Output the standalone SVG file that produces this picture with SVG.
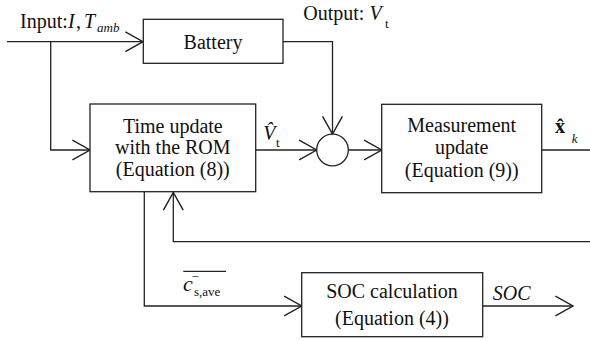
<svg xmlns="http://www.w3.org/2000/svg" width="590" height="341" viewBox="0 0 590 341">
<style>
text{font-family:"Liberation Serif","Times New Roman",serif;fill:#111;}
.t{font-size:20px;text-anchor:middle;}
.l{font-size:20px;}
.it{font-style:italic;}
.sub{font-size:13px;}
.box{fill:#fff;stroke:#222;stroke-width:1.3;}
.ln{fill:none;stroke:#222;stroke-width:1.3;}
</style>
<defs>
<marker id="ah" markerUnits="userSpaceOnUse" markerWidth="20" markerHeight="22" refX="0" refY="0" viewBox="-17 -10 18 20" orient="auto" overflow="visible">
<path d="M-16,-9 L0,0 L-16,9" fill="none" stroke="#222" stroke-width="1.3"/>
</marker>
</defs>
<rect width="590" height="341" fill="#fff"/>
<g id="connectors">
<path class="ln" d="M7,41.7 H143" marker-end="url(#ah)"/>
<path class="ln" d="M50.7,41.7 V150 H90" marker-end="url(#ah)"/>
<path class="ln" d="M283,41.7 H332.5 V134" marker-end="url(#ah)"/>
<path class="ln" d="M255.7,150 H316.7" marker-end="url(#ah)"/>
<path class="ln" d="M348.3,150 H381.7" marker-end="url(#ah)"/>
<path class="ln" d="M541.7,150 H590"/>
<path class="ln" d="M590,241.7 H173.3 V192.5" marker-end="url(#ah)"/>
<path class="ln" d="M144.3,191.7 V306 H301.7" marker-end="url(#ah)"/>
<path class="ln" d="M482.7,306 H573" marker-end="url(#ah)"/>
</g>
<g id="battery">
<rect class="box" x="143.3" y="19.3" width="139.7" height="44"/>
<text class="t" x="213" y="48.5">Battery</text>
</g>
<g id="time-update">
<rect class="box" x="90" y="104" width="165.7" height="87.7"/>
<text class="t" x="172.8" y="132.7">Time update</text>
<text class="t" x="172.8" y="154.2">with the ROM</text>
<text class="t" x="172.8" y="175.7">(Equation (8))</text>
</g>
<g id="sum">
<circle cx="332.5" cy="150" r="15.8" fill="#fff" stroke="#222" stroke-width="1.3"/>
</g>
<g id="measurement-update">
<rect class="box" x="381.7" y="104.3" width="160" height="88.4"/>
<text class="t" x="461.7" y="131.7">Measurement</text>
<text class="t" x="461.7" y="154">update</text>
<text class="t" x="461.7" y="176.5">(Equation (9))</text>
</g>
<g id="soc-calculation">
<rect class="box" x="301.7" y="272.7" width="181" height="64"/>
<text class="t" x="392" y="298.3">SOC calculation</text>
<text class="t" x="392" y="325">(Equation (4))</text>
</g>
<g id="labels">
<text class="l" x="20" y="27.7">Input:</text>
<text class="l" y="27.7"><tspan class="it" x="68">I</tspan><tspan x="76">,</tspan><tspan class="it" x="84">T</tspan></text>
<text class="sub it" x="97" y="31.5">amb</text>
<text class="l" x="303.3" y="19.5">Output: <tspan class="it">V</tspan></text>
<text class="sub" x="385" y="28.3">t</text>
<text class="l it" x="263.3" y="140">V&#x302;</text>
<text class="sub" x="276" y="146.5">t</text>
<text class="l" x="555" y="133.3" font-weight="bold">x&#x302;</text>
<text class="sub it" x="571.7" y="143.3">k</text>
<line class="ln" x1="183.3" y1="271.3" x2="226" y2="271.3"/>
<text class="it" x="183" y="290.5" font-size="22">c</text>
<text class="sub" x="191.5" y="280.5" font-size="14">−</text>
<text class="sub" x="194" y="295.7" font-size="14">s,ave</text>
<text class="l it" x="492.7" y="300" font-size="17">SOC</text>
</g>
</svg>
